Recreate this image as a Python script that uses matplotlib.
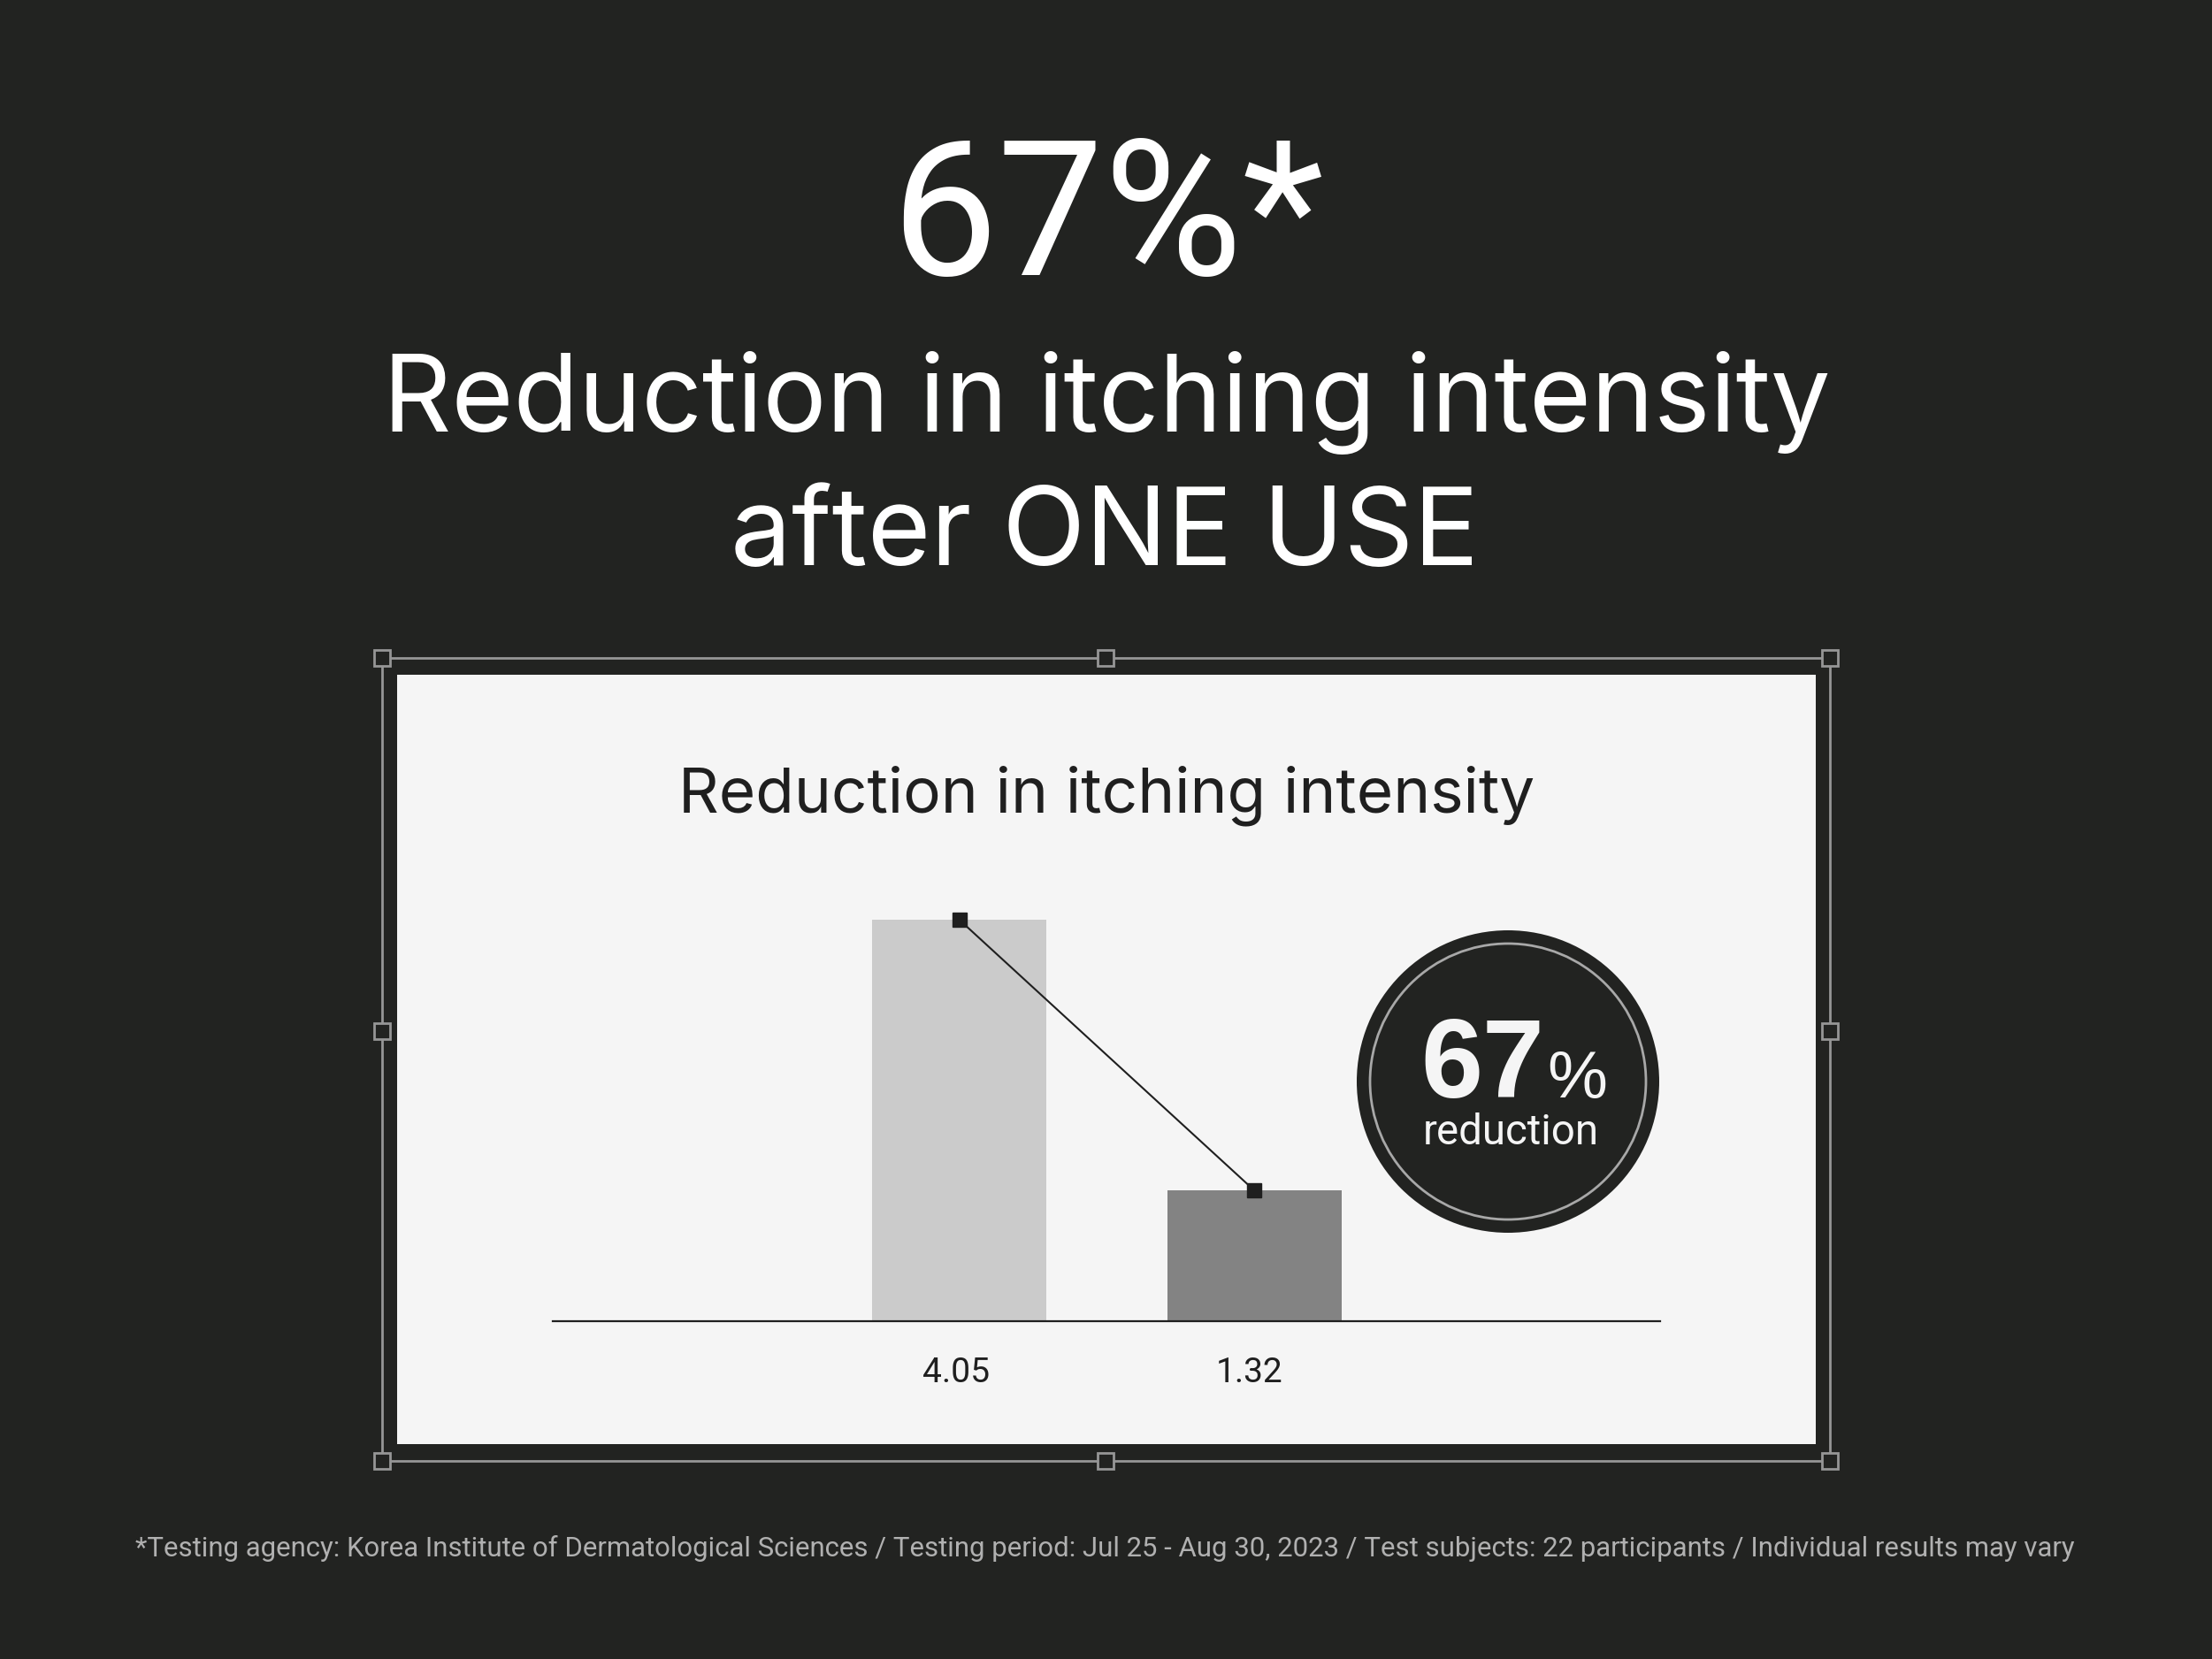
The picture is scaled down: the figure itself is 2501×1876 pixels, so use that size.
import matplotlib
matplotlib.use("Agg")
import matplotlib.pyplot as plt
from matplotlib.patches import Rectangle, Circle

# data
categories = ["Before", "After one use"]
scores = [4.05, 1.32]
bar_colors = ["#cbcbcb", "#838383"]
reduction_pct = 67

headline = f"{reduction_pct}%*"
subline1 = "Reduction in itching intensity"
subline2 = "after ONE USE"
chart_title = "Reduction in itching intensity"
footnote = ("*Testing agency: Korea Institute of Dermatological Sciences / "
            "Testing period: Jul 25 - Aug 30, 2023 / Test subjects: 22 participants / "
            "Individual results may vary")

BG = "#222321"
PANEL = "#f5f5f5"
GREY = "#969696"
INK = "#1f1f1f"
HEAD = ["Inter", "Roboto", "DejaVu Sans"]
NARROW = ["Liberation Sans Narrow", "Roboto", "DejaVu Sans"]
ARIAL = ["Liberation Sans", "DejaVu Sans"]

W, H = 2501, 1876
fig = plt.figure(figsize=(W / 100, H / 100), dpi=100, facecolor=BG)
renderer = fig.canvas.get_renderer()

# background layer in pixel coordinates (y down)
bg = fig.add_axes([0, 0, 1, 1])
bg.set_xlim(0, W)
bg.set_ylim(H, 0)
bg.axis("off")


def fit(t, width):
    # scale a text so it spans the given width in pixels
    bb = t.get_window_extent(renderer)
    t.set_fontsize(t.get_fontsize() * width / bb.width)
    return t


# headline texts
fit(bg.text(1252, 311, headline, color="white", ha="center", va="baseline",
            fontsize=150, family=["Roboto", "DejaVu Sans"]), 490)
fit(bg.text(1251, 488, subline1, color="white", ha="center", va="baseline",
            fontsize=90, family=HEAD), 1637)
fit(bg.text(1249, 639, subline2, color="white", ha="center", va="baseline",
            fontsize=90, family=HEAD), 846)

# selection frame with handles
bg.add_patch(Rectangle((432, 744), 2069 - 432, 1652 - 744, fill=False,
                       edgecolor=GREY, lw=2))
bg.add_patch(Rectangle((449, 763), 2053 - 449, 1633 - 763, facecolor=PANEL,
                       edgecolor="none"))
handles = [(432, 744), (1250, 744), (2069, 744), (432, 1166), (2069, 1166),
           (432, 1652), (1250, 1652), (2069, 1652)]
for hx, hy in handles:
    bg.add_patch(Rectangle((hx - 9, hy - 9), 18, 18, facecolor=BG,
                           edgecolor=GREY, lw=2, zorder=3))

# chart title inside panel
fit(bg.text(1251, 918, chart_title, color=INK, ha="center", va="baseline",
            fontsize=55, family=HEAD), 967)

# badge circle
bg.add_patch(Circle((1705, 1223), 171, facecolor=BG, edgecolor="none", zorder=4))
bg.add_patch(Circle((1705, 1223), 156, fill=False, edgecolor="#a8a8a8",
                    lw=2, zorder=5))
fit(bg.text(1746, 1241, str(reduction_pct), color=PANEL, ha="right",
            va="baseline", fontsize=96, weight="bold", family=ARIAL, zorder=6), 140)
fit(bg.text(1749, 1241, "%", color=PANEL, ha="left", va="baseline",
            fontsize=60, family=ARIAL, zorder=6), 68)
fit(bg.text(1708, 1294, "reduction", color=PANEL, ha="center", va="baseline",
            fontsize=32, family=NARROW, zorder=6), 200)

# footnote
fit(bg.text(1249, 1760, footnote, color="#b0b0b0", ha="center", va="baseline",
            fontsize=22, family=NARROW), 2196)

# bar chart axes
x0, x1 = 625, 1877
base_y, top_y = 1494, 1000
px_per_unit = 112.1
ax = fig.add_axes([x0 / W, (H - base_y) / H, (x1 - x0) / W, (base_y - top_y) / H])
ax.set_facecolor("none")
pos = list(range(len(scores)))
ax.bar(pos, scores, width=0.591, color=bar_colors, zorder=2)
ax.plot(pos, scores, color=INK, lw=1.5, marker="s", ms=11.5, zorder=3)
ax.set_xlim(-1.378, 2.376)
ax.set_ylim(0, (base_y - top_y) / px_per_unit)
for s in ["top", "left", "right"]:
    ax.spines[s].set_visible(False)
ax.spines["bottom"].set_color(INK)
ax.spines["bottom"].set_linewidth(1.6)
ax.set_xticks([])
ax.set_yticks([])
label_size = None
for p, v in zip(pos, scores):
    t = ax.annotate(f"{v:.2f}", (p, 0), xytext=(-4 if p == 0 else -5, -69),
                    textcoords="offset pixels", ha="center", va="baseline",
                    color=INK, fontsize=28, family=NARROW, annotation_clip=False)
    if label_size is None:
        fit(t, 76)
        label_size = t.get_fontsize()
    else:
        t.set_fontsize(label_size)

fig.savefig("out.png", dpi=100, facecolor=BG)
